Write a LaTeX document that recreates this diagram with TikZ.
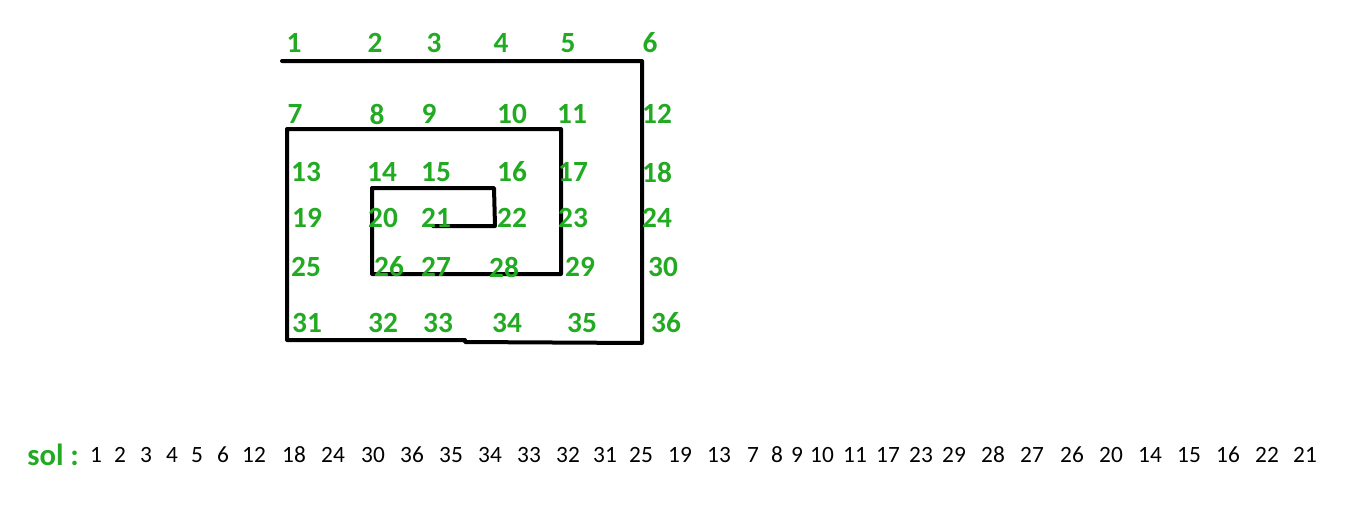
\documentclass[tikz,border=0pt]{standalone}
\usepackage{fontspec}
\setmainfont{Carlito}
\usepackage{xcolor}
\usepackage{tikz}

\definecolor{numgreen}{RGB}{34,170,34}

\tikzset{
  gnum/.style={inner sep=0.75pt, text=numgreen, font=\fontsize{22}{24}\selectfont\bfseries},
  snum/.style={inner sep=0.75pt, text=black, font=\fontsize{17.5}{20}\selectfont},
  spiral/.style={line width=3pt, line cap=round, line join=round}
}

\begin{document}
\begin{tikzpicture}[x=0.75pt,y=0.75pt,yscale=-1,xscale=1]
%set diagram left start at 0, and has height of 525
\useasboundingbox (0,0) rectangle (1363,525);

%Spiral [outer]
\draw [spiral] (282,61) -- (642,61) -- (642,343) -- (465,342) -- (465,340) -- (287,340) -- (287,129) -- (561,129) -- (561,274) -- (372,274) -- (372,188) -- (494,188) -- (495,226) -- (433,226) ;

% Text Node
\draw (294,43) node [gnum] (n1) {1};
\draw (375,43) node [gnum] (n2) {2};
\draw (434,43) node [gnum] (n3) {3};
\draw (501,43) node [gnum] (n4) {4};
\draw (568,43) node [gnum] (n5) {5};
\draw (650,43) node [gnum] (n6) {6};
% Text Node
\draw (295,114) node [gnum] (n7) {7};
\draw (377,114) node [gnum] (n8) {8};
\draw (429,114) node [gnum] (n9) {9};
\draw (512,114) node [gnum] (n10) {10};
\draw (572,114) node [gnum] (n11) {11};
\draw (657,114) node [gnum] (n12) {12};
% Text Node
\draw (306,172) node [gnum] (n13) {13};
\draw (382,172) node [gnum] (n14) {14};
\draw (436,172) node [gnum] (n15) {15};
\draw (512,172) node [gnum] (n16) {16};
\draw (573,172) node [gnum] (n17) {17};
\draw (657,172) node [gnum] (n18) {18};
% Text Node
\draw (307,218) node [gnum] (n19) {19};
\draw (383,218) node [gnum] (n20) {20};
\draw (436,218) node [gnum] (n21) {21};
\draw (512,218) node [gnum] (n22) {22};
\draw (573,218) node [gnum] (n23) {23};
\draw (657,218) node [gnum] (n24) {24};
% Text Node
\draw (306,267) node [gnum] (n25) {25};
\draw (389,267) node [gnum] (n26) {26};
\draw (436,267) node [gnum] (n27) {27};
\draw (504,267) node [gnum] (n28) {28};
\draw (580,267) node [gnum] (n29) {29};
\draw (663,267) node [gnum] (n30) {30};
% Text Node
\draw (307,323) node [gnum] (n31) {31};
\draw (383,323) node [gnum] (n32) {32};
\draw (438,323) node [gnum] (n33) {33};
\draw (507,323) node [gnum] (n34) {34};
\draw (582,323) node [gnum] (n35) {35};
\draw (666,323) node [gnum] (n36) {36};

% Text Node
\draw (26,455) node [anchor=west][inner sep=0.75pt][text=numgreen, font=\fontsize{23}{26}\selectfont\bfseries] (sol) {sol :};
\draw (96,455) node [snum] (s1) {1};
\draw (120,455) node [snum] (s2) {2};
\draw (146,455) node [snum] (s3) {3};
\draw (172,455) node [snum] (s4) {4};
\draw (197,455) node [snum] (s5) {5};
\draw (223,455) node [snum] (s6) {6};
\draw (254,455) node [snum] (s7) {12};
\draw (294,455) node [snum] (s8) {18};
\draw (333,455) node [snum] (s9) {24};
\draw (373,455) node [snum] (s10) {30};
\draw (412,455) node [snum] (s11) {36};
\draw (451,455) node [snum] (s12) {35};
\draw (490,455) node [snum] (s13) {34};
\draw (529,455) node [snum] (s14) {33};
\draw (568,455) node [snum] (s15) {32};
\draw (605,455) node [snum] (s16) {31};
\draw (641,455) node [snum] (s17) {25};
\draw (680,455) node [snum] (s18) {19};
\draw (719,455) node [snum] (s19) {13};
\draw (753,455) node [snum] (s20) {7};
\draw (777,455) node [snum] (s21) {8};
\draw (797,455) node [snum] (s22) {9};
\draw (822,455) node [snum] (s23) {10};
\draw (855,455) node [snum] (s24) {11};
\draw (888,455) node [snum] (s25) {17};
\draw (921,455) node [snum] (s26) {23};
\draw (954,455) node [snum] (s27) {29};
\draw (993,455) node [snum] (s28) {28};
\draw (1032,455) node [snum] (s29) {27};
\draw (1072,455) node [snum] (s30) {26};
\draw (1111,455) node [snum] (s31) {20};
\draw (1150,455) node [snum] (s32) {14};
\draw (1189,455) node [snum] (s33) {15};
\draw (1228,455) node [snum] (s34) {16};
\draw (1267,455) node [snum] (s35) {22};
\draw (1305,455) node [snum] (s36) {21};

\end{tikzpicture}
\end{document}
